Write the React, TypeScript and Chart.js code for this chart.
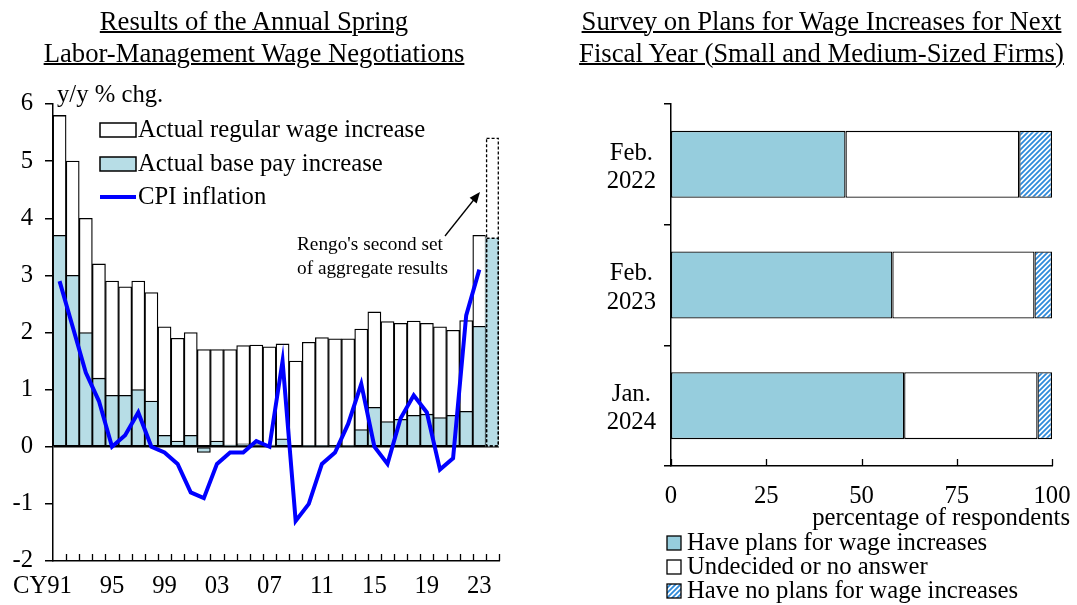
import React, { useEffect, useRef } from 'react';
import { Chart, registerables } from 'chart.js';

Chart.register(...registerables);

const FONT = "'Liberation Serif', 'Times New Roman', serif";
const FS = 24.7;

// ---------- Left chart data ----------
const years = ['91','92','93','94','95','96','97','98','99','00','01','02','03','04','05','06','07','08','09','10','11','12','13','14','15','16','17','18','19','20','21','22','23','24'];
const regularWage = [5.8,5.0,4.0,3.2,2.9,2.8,2.9,2.7,2.1,1.9,2.0,1.7,1.7,1.7,1.77,1.78,1.75,1.8,1.5,1.83,1.91,1.89,1.89,2.06,2.36,2.19,2.16,2.2,2.16,2.1,2.04,2.21,3.7,5.4];
const basePay = [3.7,3.0,2.0,1.2,0.9,0.9,1.0,0.8,0.2,0.1,0.2,-0.1,0.1,0.03,0.05,0.05,0.03,0.14,0.0,0.02,0.02,0.01,0.02,0.3,0.69,0.44,0.48,0.55,0.57,0.51,0.55,0.62,2.11,3.65];
const cpi = [2.9,2.1,1.3,0.8,0.0,0.2,0.6,0.0,-0.1,-0.3,-0.8,-0.9,-0.3,-0.1,-0.1,0.1,0.0,1.5,-1.3,-1.0,-0.3,-0.1,0.4,1.1,0.0,-0.3,0.5,0.9,0.6,-0.4,-0.2,2.3,3.1,null];
const yTicks = [-2,-1,0,1,2,3,4,5,6];
const leftLegend = ['Actual regular wage increase','Actual base pay increase','CPI inflation'];

// ---------- Right chart data ----------
const surveyLabels = [['Feb.','2022'],['Feb.','2023'],['Jan.','2024']];
const havePlans = [45.8,58.1,61.2];
const undecided = [45.6,37.3,35.0];
const noPlans = [8.6,4.6,3.8];
const xTicksRight = [0,25,50,75,100];
const rightLegend = ['Have plans for wage increases','Undecided or no answer','Have no plans for wage increases'];

const BLUE_L = '#B7DDE6';
const BLUE_R = '#96CDDD';
const LAST = years.length - 1;

function makeHatch(): CanvasPattern | string {
  const c = document.createElement('canvas');
  c.width = 5; c.height = 5;
  const g = c.getContext('2d');
  if (!g) return '#3A8EDA';
  g.fillStyle = '#fff';
  g.fillRect(0, 0, 5, 5);
  g.strokeStyle = '#2F8ADA';
  g.lineWidth = 1.8;
  g.beginPath();
  g.moveTo(0, 5); g.lineTo(5, 0);
  g.moveTo(-2.5, 2.5); g.lineTo(2.5, -2.5);
  g.moveTo(2.5, 7.5); g.lineTo(7.5, 2.5);
  g.stroke();
  return g.createPattern(c, 'repeat') || '#3A8EDA';
}

const leftDecor = {
  id: 'leftDecor',
  afterDraw(chart: any) {
    const { ctx, chartArea } = chart;
    const x = chart.scales.x;
    ctx.save();
    // inward ticks on x axis at category boundaries
    ctx.strokeStyle = '#000';
    ctx.lineWidth = 1.3;
    const half = (x.getPixelForValue(1) - x.getPixelForValue(0)) / 2;
    ctx.beginPath();
    for (let i = 0; i < years.length; i++) {
      const px = Math.round(x.getPixelForValue(i) + half) + 0.5;
      ctx.moveTo(px, chartArea.bottom);
      ctx.lineTo(px, chartArea.bottom - 7);
    }
    ctx.stroke();

    // dashed outline for the 2024 bars
    ctx.setLineDash([3, 2]);
    ctx.lineWidth = 1.3;
    [1, 2].forEach((di) => {
      const el = chart.getDatasetMeta(di).data[LAST];
      if (!el) return;
      const p = el.getProps(['x', 'y', 'base', 'width'], true);
      const l = p.x - p.width / 2 + 0.7;
      ctx.strokeRect(l, Math.min(p.y, p.base), p.width - 1.4, Math.abs(p.base - p.y));
    });
    ctx.setLineDash([]);

    // "CY" prefix before the first label
    ctx.font = `${FS}px ${FONT}`;
    ctx.fillStyle = '#000';
    const items = typeof x.getLabelItems === 'function' ? x.getLabelItems() : null;
    if (items && items.length) {
      const it = items[0];
      const tr = it.options.translation;
      const w = ctx.measureText(String(it.label)).width;
      ctx.save();
      ctx.translate(tr[0], tr[1]);
      ctx.textAlign = 'right';
      ctx.textBaseline = it.options.textBaseline;
      ctx.fillText('CY', -w / 2, it.textOffset);
      ctx.restore();
    }

    // unit label
    ctx.textAlign = 'left';
    ctx.textBaseline = 'middle';
    ctx.fillText('y/y % chg.', 57, 96);

    // legend
    const rows = [131, 165, 198];
    ctx.lineWidth = 1.5;
    ctx.fillStyle = '#fff';
    ctx.fillRect(100, 123, 36, 14);
    ctx.strokeRect(100, 123, 36, 14);
    ctx.fillStyle = BLUE_L;
    ctx.fillRect(100, 157, 36, 14);
    ctx.strokeRect(100, 157, 36, 14);
    ctx.strokeStyle = '#0000FF';
    ctx.lineWidth = 4;
    ctx.beginPath();
    ctx.moveTo(100, 197);
    ctx.lineTo(136, 197);
    ctx.stroke();
    ctx.fillStyle = '#000';
    leftLegend.forEach((t, i) => ctx.fillText(t, 138, rows[i]));

    // annotation
    ctx.font = `19.3px ${FONT}`;
    ctx.fillText("Rengo's second set", 297, 245);
    ctx.fillText('of aggregate results', 297, 269);
    // arrow
    const ax0 = 445, ay0 = 236, ax1 = 480, ay1 = 192;
    const ang = Math.atan2(ay1 - ay0, ax1 - ax0);
    ctx.strokeStyle = '#000';
    ctx.lineWidth = 1.3;
    ctx.beginPath();
    ctx.moveTo(ax0, ay0);
    ctx.lineTo(ax1 - 8 * Math.cos(ang), ay1 - 8 * Math.sin(ang));
    ctx.stroke();
    ctx.beginPath();
    ctx.moveTo(ax1, ay1);
    ctx.lineTo(ax1 - 11 * Math.cos(ang) + 4.5 * Math.sin(ang), ay1 - 11 * Math.sin(ang) - 4.5 * Math.cos(ang));
    ctx.lineTo(ax1 - 11 * Math.cos(ang) - 4.5 * Math.sin(ang), ay1 - 11 * Math.sin(ang) + 4.5 * Math.cos(ang));
    ctx.closePath();
    ctx.fillStyle = '#000';
    ctx.fill();
    ctx.restore();
  },
};

const rightDecor = {
  id: 'rightDecor',
  afterDraw(chart: any) {
    const { ctx, chartArea } = chart;
    const x = chart.scales.x;
    ctx.save();
    ctx.strokeStyle = '#000';
    ctx.lineWidth = 1.3;
    ctx.beginPath();
    xTicksRight.forEach((v) => {
      const px = Math.round(x.getPixelForValue(v)) + 0.5;
      ctx.moveTo(px, chartArea.bottom);
      ctx.lineTo(px, chartArea.bottom - 7);
    });
    ctx.stroke();

    const OFF = 530;
    ctx.font = `${FS}px ${FONT}`;
    ctx.fillStyle = '#000';
    ctx.textBaseline = 'middle';
    ctx.textAlign = 'right';
    ctx.fillText('percentage of respondents', 1070 - OFF, 519);

    ctx.textAlign = 'left';
    const fills: any[] = [BLUE_R, '#fff', chart.data.datasets[2].backgroundColor];
    const rows = [544, 568, 592];
    rightLegend.forEach((t, i) => {
      ctx.fillStyle = fills[i];
      ctx.fillRect(667 - OFF, rows[i] - 8, 14, 14);
      ctx.lineWidth = 1.3;
      ctx.strokeStyle = '#000';
      ctx.strokeRect(667 - OFF, rows[i] - 8, 14, 14);
      ctx.fillStyle = '#000';
      ctx.fillText(t, 687 - OFF, rows[i]);
    });
    ctx.restore();
  },
};

export default function App() {
  const leftRef = useRef<HTMLCanvasElement>(null);
  const rightRef = useRef<HTMLCanvasElement>(null);

  useEffect(() => {
    Chart.defaults.font.family = FONT;
    Chart.defaults.color = '#000';
    const bw = (c: any) => (c.dataIndex === LAST ? 0 : 1.3);

    const left = new Chart(leftRef.current as HTMLCanvasElement, {
      type: 'bar',
      data: {
        labels: years,
        datasets: [
          {
            type: 'line',
            label: leftLegend[2],
            data: cpi,
            borderColor: '#0000FF',
            borderWidth: 4,
            pointRadius: 0,
            tension: 0,
            fill: false,
            order: 0,
          } as any,
          {
            type: 'bar',
            label: leftLegend[1],
            data: basePay,
            backgroundColor: BLUE_L,
            borderColor: '#000',
            borderWidth: bw,
            borderSkipped: false,
            grouped: false,
            categoryPercentage: 1,
            barPercentage: 1,
            order: 1,
          } as any,
          {
            type: 'bar',
            label: leftLegend[0],
            data: regularWage,
            backgroundColor: '#fff',
            borderColor: '#000',
            borderWidth: bw,
            borderSkipped: false,
            grouped: false,
            categoryPercentage: 1,
            barPercentage: 1,
            order: 2,
          } as any,
        ],
      },
      options: {
        animation: false,
        responsive: true,
        maintainAspectRatio: false,
        layout: { padding: { top: 104, right: 31, left: 0, bottom: 0 } },
        plugins: { legend: { display: false }, tooltip: { enabled: false } },
        scales: {
          x: {
            type: 'category',
            offset: true,
            grid: { display: false, drawTicks: false },
            border: { display: true, color: '#000', width: 1.5 },
            ticks: {
              autoSkip: false,
              maxRotation: 0,
              padding: 11,
              font: { size: FS },
              color: '#000',
              callback: (_v: any, i: number) => (i % 4 === 0 ? years[i] : ''),
            },
            afterFit: (s: any) => { s.height = 44; },
          },
          y: {
            min: -2,
            max: 6,
            afterBuildTicks: (s: any) => { s.ticks = yTicks.map((v) => ({ value: v })); },
            ticks: {
              padding: 12,
              font: { size: FS },
              color: '#000',
              callback: (v: any) => String(v),
            },
            grid: {
              color: (c: any) => (c.tick && c.tick.value === 0 ? '#000' : 'rgba(0,0,0,0)'),
              tickColor: '#000',
              tickLength: 8,
              lineWidth: 1.5,
              drawOnChartArea: true,
            },
            border: { display: true, color: '#000', width: 1.5 },
            afterFit: (s: any) => { s.width = 53; },
          },
        },
      },
      plugins: [leftDecor],
    } as any);

    const hatch = makeHatch();
    const right = new Chart(rightRef.current as HTMLCanvasElement, {
      type: 'bar',
      data: {
        labels: surveyLabels,
        datasets: [
          { label: rightLegend[0], data: havePlans, backgroundColor: BLUE_R },
          { label: rightLegend[1], data: undecided, backgroundColor: '#fff' },
          { label: rightLegend[2], data: noPlans, backgroundColor: hatch },
        ].map((d) => ({
          ...d,
          borderColor: '#000',
          borderWidth: 1.3,
          borderSkipped: false,
          categoryPercentage: 1,
          barPercentage: 0.555,
        })) as any,
      },
      options: {
        indexAxis: 'y',
        animation: false,
        responsive: true,
        maintainAspectRatio: false,
        layout: { padding: { top: 104, right: 25, left: 0, bottom: 0 } },
        plugins: { legend: { display: false }, tooltip: { enabled: false } },
        scales: {
          x: {
            stacked: true,
            min: 0,
            max: 100,
            afterBuildTicks: (s: any) => { s.ticks = xTicksRight.map((v) => ({ value: v })); },
            grid: { display: false, drawTicks: false },
            border: { display: true, color: '#000', width: 1.5 },
            ticks: { padding: 16, font: { size: FS }, color: '#000', maxRotation: 0, callback: (v: any) => String(v) },
            afterFit: (s: any) => {
              s.height = 139;
              s.paddingRight = 0;
              s.paddingLeft = 0;
            },
          },
          y: {
            stacked: true,
            offset: true,
            grid: { display: true, drawOnChartArea: false, tickLength: 7, color: '#000', lineWidth: 1.5, offset: true },
            border: { display: true, color: '#000', width: 1.5 },
            ticks: { padding: 8, labelOffset: 3, crossAlign: 'center', font: { size: FS, lineHeight: 1.14 }, color: '#000' },
            afterFit: (s: any) => { s.width = 141; },
          },
        },
      },
      plugins: [rightDecor],
    } as any);

    return () => {
      left.destroy();
      right.destroy();
    };
  }, []);

  const titleStyle: React.CSSProperties = {
    position: 'absolute',
    top: 5,
    textAlign: 'center',
    fontFamily: FONT,
    fontSize: '26.7px',
    lineHeight: '32px',
    color: '#000',
    textDecoration: 'underline',
    textDecorationThickness: '1.5px',
    whiteSpace: 'nowrap',
  };

  return (
    <div style={{ position: 'absolute', left: 0, top: 0, width: 1077, height: 605, background: '#fff' }}>
      <div style={{ position: 'absolute', left: 0, top: 0, width: 530, height: 605 }}>
        <canvas ref={leftRef} />
      </div>
      <div style={{ position: 'absolute', left: 530, top: 0, width: 547, height: 605 }}>
        <canvas ref={rightRef} />
      </div>
      <div style={{ ...titleStyle, left: 0, width: 508 }}>
        Results of the Annual Spring<br />Labor-Management Wage Negotiations
      </div>
      <div style={{ ...titleStyle, left: 561, width: 521 }}>
        Survey on Plans for Wage Increases for Next<br />Fiscal Year (Small and Medium-Sized Firms)
      </div>
    </div>
  );
}
